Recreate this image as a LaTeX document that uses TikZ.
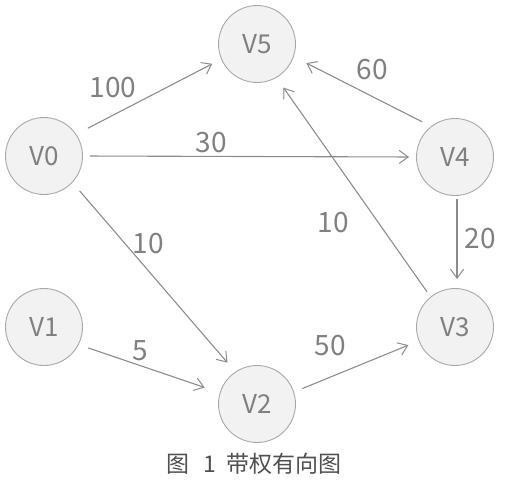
\documentclass[tikz,border=0pt]{standalone}
\usepackage{fontspec}
\setmainfont{Noto Sans CJK SC}
\usetikzlibrary{arrows.meta}
\definecolor{edgegray}{HTML}{8C8C8C}
\definecolor{txtgray}{HTML}{808080}
\definecolor{nodefill}{HTML}{F2F2F2}
\definecolor{nodeline}{HTML}{A8A8A8}
\definecolor{capgray}{HTML}{505050}
\begin{document}
\begin{tikzpicture}[x=1pt,y=-1pt,
  vtx/.style={circle,draw=nodeline,fill=nodefill,line width=0.9pt,minimum size=77pt,inner sep=0pt,
    text=txtgray,font=\fontsize{26}{26}\selectfont},
  arc/.style={draw=edgegray,line width=1.1pt,-{Straight Barb[length=9pt,width=13pt,line width=1pt]}},
  wlabel/.style={text=txtgray,font=\fontsize{28}{28}\selectfont,inner sep=0pt},
  caption/.style={text=capgray,font=\fontsize{23}{23}\selectfont,inner sep=0pt}]
\useasboundingbox (0,0) rectangle (509,483);
\node[vtx] (V5) at (257,44) {V5};
\node[vtx] (V0) at (44,156) {V0};
\node[vtx] (V4) at (455,157) {V4};
\node[vtx] (V1) at (44,327) {V1};
\node[vtx] (V3) at (455,327) {V3};
\node[vtx] (V2) at (257,404) {V2};
\draw[arc,shorten <=13pt,shorten >=10pt] (V0.34) -- (V5.203);
\draw[arc,shorten <=7pt,shorten >=7pt] (V0.0) -- (V4.180);
\draw[arc,shorten <=11pt,shorten >=12pt] (V0.-43) -- (V2.124);
\draw[arc,shorten <=10pt,shorten >=16pt] (V1.-27) -- (V2.163);
\draw[arc,shorten <=9pt,shorten >=11pt] (V2.18) -- (V3.201);
\draw[arc,shorten <=6pt,shorten >=12pt] (V3.129) -- (V5.-60);
\draw[arc,shorten <=10pt,shorten >=14pt] (V4.128) -- (V5.-19);
\draw[arc,shorten <=3pt,shorten >=9pt] (V4.-87) -- (V3.87);
\node[wlabel] (l100) at (113,88) {100};
\node[wlabel] (l30) at (211,143) {30};
\node[wlabel] (l10a) at (148,244) {10};
\node[wlabel] (l5) at (140,351) {5};
\node[wlabel] (l50) at (330,346) {50};
\node[wlabel] (l10b) at (333,223) {10};
\node[wlabel] (l60) at (372,70) {60};
\node[wlabel] (l20) at (480,239) {20};
\node[caption] (cap) at (254,464) {图\hspace{14pt}1\hspace{11pt}带权有向图};
\end{tikzpicture}
\end{document}
